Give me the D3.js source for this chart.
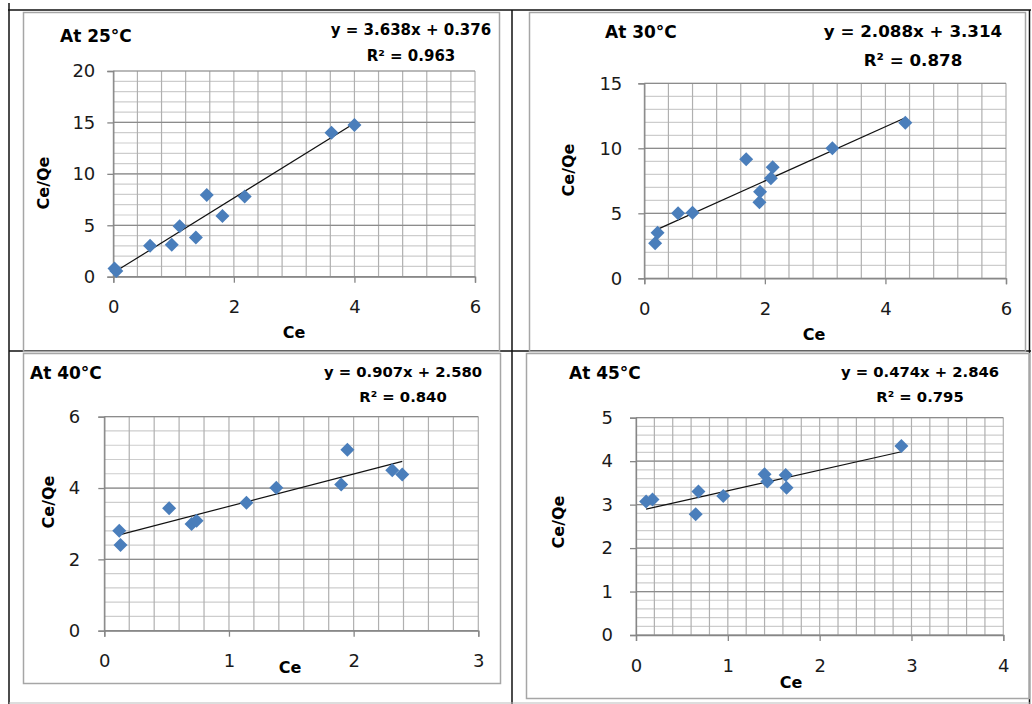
<!DOCTYPE html>
<meta charset="utf-8">
<style>
body { margin: 0; background: #fff; }
text { font-family: "DejaVu Sans", sans-serif; fill: #000; }
.title { font-weight: bold; font-size: 17px; }
.eq { font-weight: bold; }
.axis-title { font-weight: bold; font-size: 16px; }
</style>
<svg width="1032" height="704"></svg>
<script src="https://d3js.org/d3.v7.min.js"></script>
<script>

// Ce and Ce/Qe
var ce25 = [0.02, 0.05, 0.61, 0.97, 1.10, 1.37, 1.55, 1.81, 2.18, 3.62, 4.00];
var ceQe25 = [0.8, 0.55, 3.0, 3.1, 4.9, 3.8, 7.95, 5.9, 7.8, 14.0, 14.75];

var ce30 = [0.18, 0.22, 0.56, 0.80, 1.69, 1.91, 1.92, 2.10, 2.13, 3.12, 4.33];
var ceQe30 = [2.7, 3.5, 5.0, 5.05, 9.15, 5.85, 6.65, 7.7, 8.55, 10.0, 11.97];

var ce40 = [0.12, 0.13, 0.52, 0.70, 0.74, 1.14, 1.38, 1.90, 1.95, 2.31, 2.39];
var ceQe40 = [2.8, 2.4, 3.43, 2.99, 3.08, 3.59, 4.01, 4.10, 5.07, 4.50, 4.38];

var ce45 = [0.11, 0.18, 0.65, 0.68, 0.95, 1.40, 1.43, 1.63, 1.64, 2.89];
var ceQe45 = [3.07, 3.12, 2.78, 3.30, 3.20, 3.70, 3.53, 3.68, 3.39, 4.35];

var titles = ["At 25°C", "At 30°C", "At 40°C", "At 45°C"];
var slopes = [3.638, 2.088, 0.907, 0.474];
var intercepts = [0.376, 3.314, 2.580, 2.846];
var rSquared = [0.963, 0.878, 0.840, 0.795];

var xTicks = [[0, 2, 4, 6], [0, 2, 4, 6], [0, 1, 2, 3], [0, 1, 2, 3, 4]];
var yTicks = [[0, 5, 10, 15, 20], [0, 5, 10, 15], [0, 2, 4, 6], [0, 1, 2, 3, 4, 5]];

var xs = [ce25, ce30, ce40, ce45];
var ys = [ceQe25, ceQe30, ceQe40, ceQe45];

// where each panel sits on the page
var layout = [
  {x0: 113.3, x1: 475, y0: 276.7, y1: 71, box: [23, 12, 499, 351], title: [60, 42],
   eq: [411, 35, 61], eqSize: 15, xt: [294, 338], yt: [43, 183], ypad: 12},
  {x0: 644.3, x1: 1006, y0: 278.3, y1: 83.3, box: [529, 12, 1025, 351], title: [605, 38],
   eq: [913, 37, 66], eqSize: 16.7, xt: [814, 340], yt: [568, 170], ypad: 16},
  {x0: 104.3, x1: 478.3, y0: 630.7, y1: 416.7, box: [23, 353, 500, 683], title: [30, 379],
   eq: [403, 377, 402], eqSize: 14.8, xt: [290, 673], yt: [48, 502], ypad: 18},
  {x0: 636, x1: 1003.3, y0: 635, y1: 417.7, box: [526, 353, 1029, 698], title: [569, 379],
   eq: [920, 377, 402], eqSize: 14.8, xt: [791, 688], yt: [558, 522], ypad: 17}
];

var svg = d3.select("svg");

// table borders
var table = svg.append("g").attr("stroke", "#111").attr("stroke-width", 1.5);
table.append("line").attr("x1", 8).attr("x2", 1031).attr("y1", 10).attr("y2", 10);
table.append("line").attr("x1", 9).attr("x2", 9).attr("y1", 3).attr("y2", 704);
table.append("line").attr("x1", 512).attr("x2", 512).attr("y1", 10).attr("y2", 704);
table.append("line").attr("x1", 1029.5).attr("x2", 1029.5).attr("y1", 10).attr("y2", 704);
table.append("line").attr("x1", 9).attr("x2", 1031).attr("y1", 351).attr("y2", 351);
svg.append("line").attr("x1", 9).attr("x2", 1031).attr("y1", 703).attr("y2", 703)
  .attr("stroke", "#bbb").attr("stroke-width", 1);

layout.forEach(function(L, i) {
  var g = svg.append("g");

  // chart area border
  g.append("rect")
    .attr("x", L.box[0] + 0.5).attr("y", L.box[1] + 0.5)
    .attr("width", L.box[2] - L.box[0]).attr("height", L.box[3] - L.box[1])
    .attr("fill", "none").attr("stroke", "#a6a6a6").attr("stroke-width", 1.5);

  var xt = xTicks[i], yt = yTicks[i];
  var x = d3.scaleLinear().domain([xt[0], xt[xt.length - 1]]).range([L.x0, L.x1]);
  var y = d3.scaleLinear().domain([yt[0], yt[yt.length - 1]]).range([L.y0, L.y1]);

  var xMinor = d3.range(x.domain()[0], x.domain()[1] + 1e-9, (xt[1] - xt[0]) / 5);
  var yMinor = d3.range(y.domain()[0], y.domain()[1] + 1e-9, (yt[1] - yt[0]) / 5);

  // gridlines
  g.append("g").selectAll("line").data(yMinor).join("line")
    .attr("x1", L.x0).attr("x2", L.x1)
    .attr("y1", function(d) { return y(d); }).attr("y2", function(d) { return y(d); })
    .attr("stroke", "#cdcdcd").attr("stroke-width", 1.2);
  g.append("g").selectAll("line").data(xMinor).join("line")
    .attr("y1", L.y0).attr("y2", L.y1)
    .attr("x1", function(d) { return x(d); }).attr("x2", function(d) { return x(d); })
    .attr("stroke", "#b0b0b0").attr("stroke-width", 1.2);
  g.append("g").selectAll("line").data(yt).join("line")
    .attr("x1", L.x0).attr("x2", L.x1)
    .attr("y1", function(d) { return y(d); }).attr("y2", function(d) { return y(d); })
    .attr("stroke", "#8c8c8c").attr("stroke-width", 1.2);

  // axes
  var xa = g.append("g").attr("transform", "translate(0," + L.y0 + ")")
    .call(d3.axisBottom(x).tickValues(xt).tickSize(6).tickPadding(18).tickFormat(d3.format("d")));
  var ya = g.append("g").attr("transform", "translate(" + L.x0 + ",0)")
    .call(d3.axisLeft(y).tickValues(yt).tickSize(6).tickPadding(L.ypad).tickFormat(d3.format("d")));
  [xa, ya].forEach(function(a) {
    a.attr("font-family", "DejaVu Sans, sans-serif").attr("font-size", 18);
    a.select(".domain").attr("stroke", "#868686").attr("stroke-width", 1.3);
    a.selectAll(".tick line").attr("stroke", "#868686").attr("stroke-width", 1.3);
    a.selectAll(".tick text").style("font-size", "18px").style("fill", "#1a1a1a");
  });

  // trend line
  var ext = d3.extent(xs[i]);
  var line = d3.line().x(function(d) { return x(d); })
    .y(function(d) { return y(slopes[i] * d + intercepts[i]); });
  g.append("path").datum(ext).attr("d", line)
    .attr("fill", "none").attr("stroke", "#111").attr("stroke-width", 1.2);

  // markers
  var pts = xs[i].map(function(v, k) { return [v, ys[i][k]]; });
  g.append("g").selectAll("path").data(pts).join("path")
    .attr("d", d3.symbol(d3.symbolSquare, 98))
    .attr("transform", function(d) { return "translate(" + x(d[0]) + "," + y(d[1]) + ") rotate(45)"; })
    .attr("fill", "#4a7ebb");

  // labels
  g.append("text").attr("class", "title").attr("x", L.title[0]).attr("y", L.title[1]).text(titles[i]);
  g.append("text").attr("class", "eq").attr("text-anchor", "middle")
    .attr("x", L.eq[0]).attr("y", L.eq[1]).style("font-size", L.eqSize + "px")
    .text("y = " + slopes[i].toFixed(3) + "x + " + intercepts[i].toFixed(3));
  g.append("text").attr("class", "eq").attr("text-anchor", "middle")
    .attr("x", L.eq[0]).attr("y", L.eq[2]).style("font-size", L.eqSize + "px")
    .text("R² = " + rSquared[i].toFixed(3));
  g.append("text").attr("class", "axis-title").attr("text-anchor", "middle")
    .attr("x", L.xt[0]).attr("y", L.xt[1]).text("Ce");
  g.append("text").attr("class", "axis-title").attr("text-anchor", "middle")
    .attr("transform", "translate(" + (L.yt[0] + 6) + "," + L.yt[1] + ") rotate(-90)")
    .text("Ce/Qe");
});

</script>
